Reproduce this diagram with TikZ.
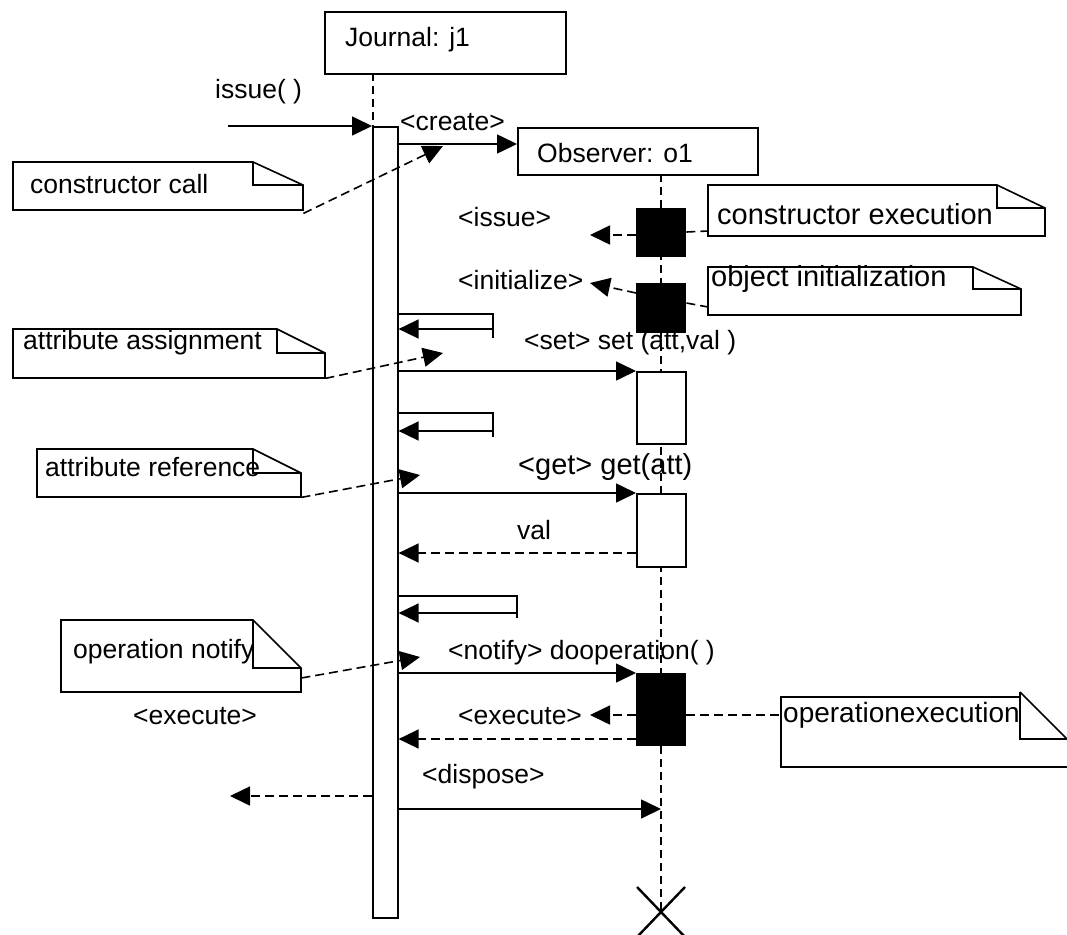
\documentclass[tikz,border=0pt]{standalone}
\usepackage{fontspec}
\setmainfont{Liberation Sans}
\usetikzlibrary{arrows.meta}

% note symbol: name, left, top, right, bottom, fold x, fold y
\newcommand\umlnote[7]{%
  \draw[stroke] (#2,#3) -- (#6,#3) -- (#4,#7) -- (#4,#5) -- (#2,#5) -- cycle;
  \draw[stroke] (#6,#3) -- (#6,#7) -- (#4,#7);
  \node[inner sep=0pt, minimum width={#4-#2}, minimum height={#5-#3}, anchor=north west] (#1) at (#2,#3) {};
}

\begin{document}
\begin{tikzpicture}[x=1pt, y=-1pt,
  stroke/.style={line width=1.6pt},
  msg/.style={stroke, -{Triangle[length=20pt, width=19pt]}},
  ret/.style={msg, dash pattern=on 9pt off 5pt},
  link/.style={stroke, dash pattern=on 9pt off 5pt},
  lifeline/.style={line width=1.4pt, dash pattern=on 8pt off 5pt},
  lbl/.style={anchor=west, inner sep=0pt, font=\fontsize{26.5}{30}\selectfont},
  biglbl/.style={lbl, font=\fontsize{29}{33}\selectfont},
  objbox/.style={stroke, draw, fill=white, inner sep=0pt, anchor=north west},
  actbox/.style={stroke, draw, fill=white, inner sep=0pt, anchor=north west},
  execbox/.style={fill=black, inner sep=0pt, anchor=north west},
]
\useasboundingbox (0,0) rectangle (1067,934);
\fill[white] (0,0) rectangle (1067,934);

% objects
\node[objbox, minimum width=241pt, minimum height=62pt] (journal) at (324,11) {};
\node[lbl] (journalname) at (345,40) {Journal: j1};
\node[objbox, minimum width=240pt, minimum height=47pt] (observer) at (517,127) {};
\node[lbl] (observername) at (537,153) {Observer: o1};

% lifelines
\coordinate (jtop) at (373,73);
\coordinate (otop) at (661,174);
\coordinate (oend) at (661,912);
\draw[lifeline] (jtop) -- (373,126);
\draw[lifeline] (otop) -- (oend);

% activation of the journal
\node[actbox, minimum width=25pt, minimum height=791pt] (bar) at (372,126) {};

% activations of the observer
\node[execbox, minimum width=50pt, minimum height=49pt] (blk1) at (636,208) {};
\node[execbox, minimum width=50pt, minimum height=50pt] (blk2) at (636,283) {};
\node[actbox, minimum width=49pt, minimum height=72pt] (act1) at (636,371) {};
\node[actbox, minimum width=49pt, minimum height=73pt] (act2) at (636,493) {};
\node[execbox, minimum width=50pt, minimum height=73pt] (blk3) at (636,673) {};

% destruction
\draw[line width=2.4pt] (oend) ++(-24,-25) -- ++(48,50);
\draw[line width=2.4pt] (oend) ++(24,-25) -- ++(-48,50);

% messages
\coordinate (caller) at (228,126);
\draw[msg] (caller) -- (bar.north west);
\node[lbl] (issuelbl) at (215,92) {issue( )};

\draw[msg] (bar.east |- 0,144) -- (observer.west |- 0,144);
\node[lbl] (createlbl) at (400,122) {<create>};

\coordinate (issuetip) at (590,235);
\draw[ret] (blk1.west |- 0,235) -- (issuetip);
\node[lbl] (issueret) at (458,217) {<issue>};

\coordinate (inittip) at (590,283);
\draw[ret] (blk2.west |- 0,293) -- (inittip);
\node[lbl] (initlbl) at (458,280) {<initialize>};

% self calls
\draw[stroke] (bar.east |- 0,314) -- (493,314) coordinate (s1) -- (493,338);
\draw[msg] (s1 |- 0,329) -- (bar.east |- 0,329);
\draw[stroke] (bar.east |- 0,413) -- (493,413) coordinate (s2) -- (493,437);
\draw[msg] (s2 |- 0,431) -- (bar.east |- 0,431);
\draw[stroke] (bar.east |- 0,596) -- (517,596) coordinate (s3) -- (517,618);
\draw[msg] (s3 |- 0,613) -- (bar.east |- 0,613);

\draw[msg] (bar.east |- 0,371) -- (act1.north west);
\node[lbl] (setlbl) at (524,343) {<set> set (att,val )};

\draw[msg] (bar.east |- 0,493) -- (act2.north west);
\node[biglbl] (getlbl) at (518,467) {<get> get(att)};

\draw[ret] (act2.west |- 0,553) -- (bar.east |- 0,553);
\node[lbl] (vallbl) at (517,530) {val};

\draw[msg] (bar.east |- 0,673) -- (blk3.north west);
\node[lbl] (notifylbl) at (448,653) {<notify> dooperation( )};

\coordinate (exectip) at (590,715);
\draw[ret] (blk3.west |- 0,715) -- (exectip);
\node[lbl] (execlbl) at (458,716) {<execute>};
\draw[ret] (blk3.west |- 0,739) -- (bar.east |- 0,739);

\coordinate (outtip) at (230,796);
\draw[ret] (bar.west |- 0,796) -- (outtip);
\node[lbl] (execout) at (133,716) {<execute>};

\draw[msg] (bar.east |- 0,809) -- (oend |- 0,809);
\node[lbl] (disposelbl) at (422,777) {<dispose>};

% notes
\umlnote{ncall}{13}{162}{303}{210}{253}{185}
\node[lbl] at (30,184) {constructor call};
\draw[ret] (ncall.south east) ++(0,3) -- (443,146);

\umlnote{ncexec}{708}{185}{1045}{236}{997}{208}
\node[biglbl] at (717,214) {constructor execution};
\draw[link] (blk1.east |- 0,232) -- (ncexec.west |- 0,231);

\umlnote{ninit}{708}{267}{1021}{315}{973}{289}
\node[biglbl] at (711,279) {object initialization};
\draw[link] (blk2.east |- 0,303) -- (ninit.west |- 0,307);

\umlnote{nassign}{13}{329}{325}{378}{277}{353}
\node[lbl] at (23,343) {attribute assignment};
\draw[ret] (nassign.south east) -- (443,353);

\umlnote{nref}{37}{449}{301}{497}{253}{473}
\node[lbl] at (45,467) {attribute reference};
\draw[ret] (nref.south east) -- (420,475);

\umlnote{nnotify}{61}{620}{301}{692}{253}{668}
\node[lbl] at (73,652) {operation notify};
\draw[ret] (nnotify.east |- 0,678) -- (420,657);

% note running past the right edge
\draw[stroke] (1067,767) -- (781,767) -- (781,697) -- (1020,697);
\draw[stroke] (1020,692) -- (1020,739) -- (1067,739);
\draw[stroke] (1020,692) -- (1067,739);
\node[inner sep=0pt, minimum width=286pt, minimum height=70pt, anchor=north west] (nopexec) at (781,697) {};
\node[lbl, font=\fontsize{28}{32}\selectfont] at (783,715) {operationexecution};
\draw[link] (blk3.east |- 0,715) -- (nopexec.west |- 0,715);
\end{tikzpicture}
\end{document}
